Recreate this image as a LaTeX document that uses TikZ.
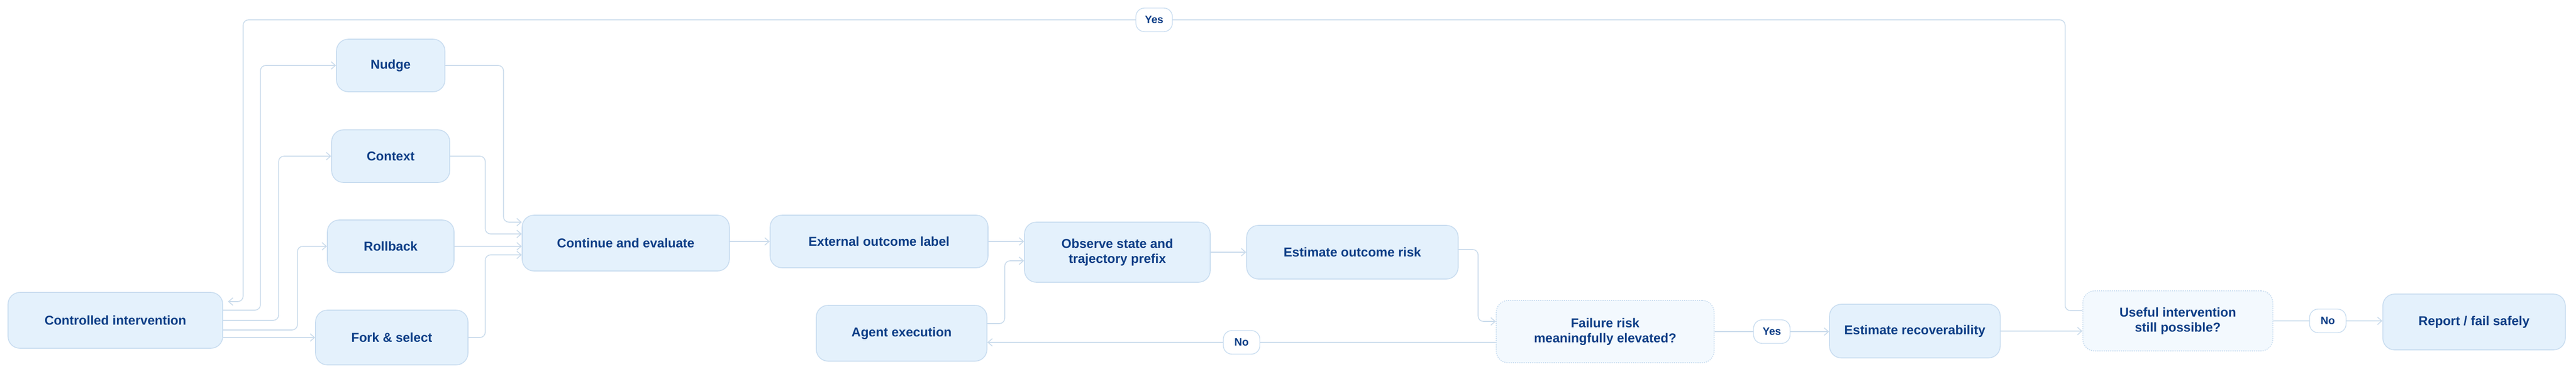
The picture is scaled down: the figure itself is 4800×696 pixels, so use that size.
\documentclass[tikz,border=0pt]{standalone}
\usepackage{fontspec}
\setmainfont{Liberation Sans}
\usetikzlibrary{calc,arrows.meta}
\definecolor{boxfill}{HTML}{E4F1FC}
\definecolor{boxline}{HTML}{C9DDF0}
\definecolor{decfill}{HTML}{F3F9FE}
\definecolor{txt}{HTML}{0C3D86}
\definecolor{edge}{HTML}{CBDCEC}
\tikzset{
  box/.style={draw=boxline,line width=0.8pt,fill=boxfill,rounded corners=11pt,align=center,
    font=\fontsize{12}{14}\selectfont\bfseries,text=txt,inner sep=2pt},
  dec/.style={box,fill=decfill,dash pattern=on 1pt off 1pt},
  lbl/.style={draw=boxline,line width=0.7pt,fill=white,rounded corners=8pt,font=\fontsize{10}{12}\selectfont\bfseries,
    text=txt,minimum width=34pt,minimum height=22pt,inner sep=2pt},
  arr/.style={draw=edge,line width=0.8pt,rounded corners=5pt,-{Straight Barb[length=4pt,width=7pt]}},
}
\begin{document}
\begin{tikzpicture}[x=0.5pt,y=-0.5pt]
\useasboundingbox[fill=white] (0,0) rectangle (4800,696);
\node[box,minimum width=200pt,minimum height=52pt] (ci) at (215,597) {Controlled intervention};
\node[box,minimum width=101pt,minimum height=49pt] (nudge) at (728,122) {Nudge};
\node[box,minimum width=110pt,minimum height=49pt] (context) at (728,291) {Context};
\node[box,minimum width=118pt,minimum height=49pt] (rollback) at (728,459) {Rollback};
\node[box,minimum width=142pt,minimum height=51pt] (fork) at (730,629) {Fork \& select};
\node[box,minimum width=193pt,minimum height=52pt] (cont) at (1166,453) {Continue and evaluate};
\node[box,minimum width=203pt,minimum height=49pt] (ext) at (1638,450) {External outcome label};
\node[box,minimum width=173pt,minimum height=56pt] (obs) at (2082,470) {Observe state and\\trajectory prefix};
\node[box,minimum width=197pt,minimum height=50pt] (risk) at (2520,470) {Estimate outcome risk};
\node[box,minimum width=159pt,minimum height=52pt] (agent) at (1680,621) {Agent execution};
\node[dec,minimum width=203pt,minimum height=58pt] (fail) at (2991,618) {Failure risk\\meaningfully elevated?};
\node[box,minimum width=159pt,minimum height=50pt] (rec) at (3568,617) {Estimate recoverability};
\node[dec,minimum width=177pt,minimum height=56pt] (useful) at (4058,598) {Useful intervention\\still possible?};
\node[box,minimum width=170pt,minimum height=52pt] (report) at (4610,600) {Report / fail safely};
\coordinate (topR) at (3848,37);
\coordinate (topL) at (453,37);

\draw[arr] ($(ci.east)+(0,-19)$) -| ($(nudge.west)+(-141,0)$) -- (nudge.west);
\draw[arr] ($(ci.east)+(0,0)$) -| ($(context.west)+(-98,0)$) -- (context.west);
\draw[arr] ($(ci.east)+(0,18)$) -| ($(rollback.west)+(-55,0)$) -- (rollback.west);
\draw[arr] (ci.east |- fork.west) -- (fork.west);

\draw[arr] (nudge.east) -| ($(cont.west)+(-34,-39)$) -- ($(cont.west)+(0,-39)$);
\draw[arr] (context.east) -| ($(cont.west)+(-68,-17)$) -- ($(cont.west)+(0,-17)$);
\draw[arr] (rollback.east) -- (cont.west |- rollback.east);
\draw[arr] (fork.east) -| ($(cont.west)+(-68,22)$) -- ($(cont.west)+(0,22)$);

\draw[arr] ($(useful.west)+(0,-19)$) -| (topR) -- node[lbl]{Yes} (topL) |- ($(ci.east)+(9,-35)$);

\draw[arr] (cont.east |- ext.west) -- (ext.west);
\draw[arr] (ext.east) -- (obs.west |- ext.east);
\draw[arr] ($(agent.east)+(0,-18)$) -| ($(obs.west)+(-36,16)$) -- ($(obs.west)+(0,16)$);
\draw[arr] (obs.east) -- (risk.west);
\draw[arr] ($(risk.east)+(0,-5)$) -| ($(fail.west)+(-33,-19)$) -- ($(fail.west)+(0,-19)$);
\draw[arr] ($(fail.west)+(0,20)$) -- node[lbl]{No} (agent.east |- 0,638);
\draw[arr] (fail.east) -- node[lbl]{Yes} (rec.west |- fail.east);
\draw[arr] (rec.east) -- (useful.west |- rec.east);
\draw[arr] (useful.east) -- node[lbl]{No} (report.west |- useful.east);
\end{tikzpicture}
\end{document}
